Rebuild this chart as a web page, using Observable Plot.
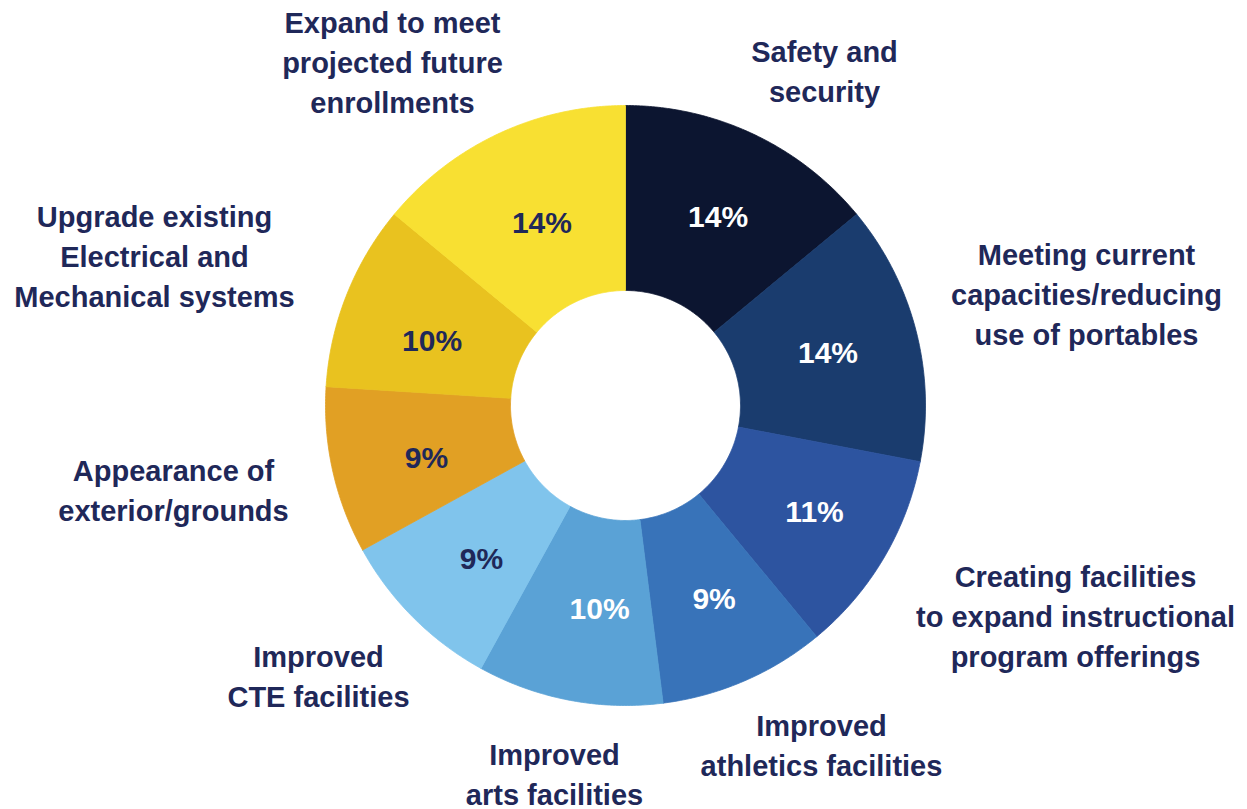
<!DOCTYPE html>
<html>
<head>
<meta charset="utf-8">
<script src="https://cdn.jsdelivr.net/npm/d3@7"></script>
<script src="https://cdn.jsdelivr.net/npm/@observablehq/plot@0.6"></script>
<style>
  html, body { margin: 0; padding: 0; background: #ffffff; }
  #chart svg { display: block; }
</style>
</head>
<body>
<div id="chart"></div>
<script>
// ---- data ----
const categories = [
  "Safety and\nsecurity",
  "Meeting current\ncapacities/reducing\nuse of portables",
  "Creating facilities\nto expand instructional\nprogram offerings",
  "Improved\nathletics facilities",
  "Improved\narts facilities",
  "Improved\nCTE facilities",
  "Appearance of\nexterior/grounds",
  "Upgrade existing\nElectrical and\nMechanical systems",
  "Expand to meet\nprojected future\nenrollments"
];
const values = [14, 14, 11, 9, 10, 9, 9, 10, 14];

// ---- styles ----
const sliceColors = ["#0c1530", "#1a3c6e", "#2d54a0", "#3873b9", "#5aa2d6", "#80c4ec", "#e1a024", "#e9c21f", "#f8e032"];
const pctColors = ["#ffffff", "#ffffff", "#ffffff", "#ffffff", "#ffffff", "#1f2859", "#1f2859", "#1f2859", "#1f2859"];
const navy = "#1f2859";

// ---- layout ----
// outer label block centres, relative to the donut centre
const labelPos = [
  [199, -336], [461, -113], [450, 209], [196, 338], [-71, 367],
  [-307, 269], [-452, 83], [-471, -151], [-233, -345]
];
// small nudges of the percentage labels from the slice mid-angle
const pctNudge = [[4, 0], [1, 0], [10, 1], [6, 3], [13, 0], [3, 7], [4, 8], [0, 12], [5, 6]];
const W = 1247, H = 809, CX = 625, CY = 405;
const R_OUT = 300, R_IN = 115, R_LABEL = 208;

const pie = d3.pie().sort(null).value(d => d)(values);

// polygon outlines of each slice, derived from the pie angles
const slicePts = [];
pie.forEach((p, i) => {
  const n = Math.max(8, Math.ceil((p.endAngle - p.startAngle) / 0.01));
  const pts = [];
  for (let k = 0; k <= n; k++) {
    const a = p.startAngle + (p.endAngle - p.startAngle) * k / n;
    pts.push([R_OUT * Math.sin(a), -R_OUT * Math.cos(a)]);
  }
  for (let k = n; k >= 0; k--) {
    const a = p.startAngle + (p.endAngle - p.startAngle) * k / n;
    pts.push([R_IN * Math.sin(a), -R_IN * Math.cos(a)]);
  }
  pts.push(pts[0]);
  pts.forEach(([x, y]) => slicePts.push({key: i, x, y, color: sliceColors[i]}));
});

const pctData = pie.map((p, i) => {
  const a = (p.startAngle + p.endAngle) / 2;
  return {
    x: R_LABEL * Math.sin(a) + pctNudge[i][0],
    y: -R_LABEL * Math.cos(a) + pctNudge[i][1],
    text: values[i] + "%",
    color: pctColors[i]
  };
});

const labelData = categories.map((c, i) => ({x: labelPos[i][0], y: labelPos[i][1], text: c}));

const chart = Plot.plot({
  width: W,
  height: H,
  margin: 0,
  style: {fontFamily: "'Liberation Sans', Arial, sans-serif", background: "#ffffff"},
  x: {domain: [-CX, W - CX], range: [0, W], axis: null},
  y: {domain: [-CY, H - CY], range: [0, H], axis: null},
  marks: [
    Plot.line(slicePts, {x: "x", y: "y", z: "key", fill: "color", stroke: "color", strokeWidth: 0.8}),
    Plot.text(pctData, {x: "x", y: "y", text: "text", fill: "color", fontSize: 30, fontWeight: "bold"}),
    Plot.text(labelData, {x: "x", y: "y", text: "text", fill: navy, fontSize: 29, fontWeight: "bold", lineHeight: 1.38, lineAnchor: "middle", textAnchor: "middle"})
  ]
});
document.getElementById("chart").appendChild(chart);
</script>
</body>
</html>
